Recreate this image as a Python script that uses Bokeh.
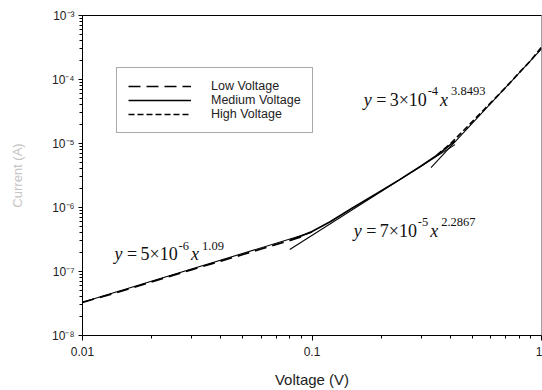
import math
from bokeh.plotting import figure
from bokeh.models import (Range1d, FixedTicker, CustomJSTickFormatter, Label,
                          Legend, LegendItem, LogAxis)
from bokeh.embed import file_html
from bokeh.resources import INLINE

# ---- data ----
low_v = [0.01, 0.015, 0.02, 0.03, 0.04, 0.05, 0.06, 0.07, 0.08, 0.09]
low_i = [3.3e-8, 5.0e-8, 6.9e-8, 1.07e-7, 1.45e-7, 1.84e-7, 2.25e-7, 2.65e-7, 3.05e-7, 3.5e-7]
med_v = [0.08, 0.1, 0.12, 0.15, 0.19, 0.24, 0.3, 0.36, 0.42]
med_i = [3.05e-7, 4.2e-7, 6.0e-7, 9.8e-7, 1.62e-6, 2.7e-6, 4.5e-6, 7.0e-6, 1.1e-5]
high_v = [0.35, 0.4, 0.45, 0.5, 0.6, 0.7, 0.8, 0.9, 1.0]
high_i = [6.6e-6, 9.8e-6, 1.5e-5, 2.2e-5, 4.3e-5, 7.6e-5, 1.28e-4, 2.0e-4, 3.2e-4]

low_fit_v = [0.01, 0.1]
low_fit_i = [3.3e-8, 4.1e-7]
med_fit_v = [0.08, 0.42]
med_fit_i = [2.2e-7, 9.6e-6]
high_fit_v = [0.33, 1.0]
high_fit_i = [4.2e-6, 3.0e-4]

series_names = ["Low Voltage", "Medium Voltage", "High Voltage"]

x_major = [0.01, 0.1, 1.0]
y_major = [1e-8, 1e-7, 1e-6, 1e-5, 1e-4, 1e-3]

x_title = "Voltage (V)"
y_title = "Current (A)"

# equations: coefficient, power of ten, exponent, anchor (V, A)
eq_coef = ["3", "5", "7"]
eq_p10 = ["-4", "-6", "-5"]
eq_pow = ["3.8493", "1.09", "2.2867"]
eq_x = [0.168, 0.0138, 0.152]
eq_y = [4.8e-5, 1.86e-7, 4.37e-7]

# ---- figure ----
p = figure(width=542, height=390, x_axis_type="log", y_axis_type="log",
           x_range=Range1d(0.01, 1.0), y_range=Range1d(1e-8, 1e-3),
           output_backend="svg", toolbar_location=None,
           min_border_left=82, min_border_right=1, min_border_top=15,
           min_border_bottom=52)
p.grid.visible = False
p.outline_line_color = "#a0a0a0"
p.background_fill_color = "white"
p.border_fill_color = "white"

def minors(majors):
    out = []
    for m in majors[:-1]:
        out += [m * k for k in range(2, 10)]
    return out

p.xaxis.ticker = FixedTicker(ticks=x_major, minor_ticks=minors(x_major))
p.yaxis.ticker = FixedTicker(ticks=y_major, minor_ticks=minors(y_major))
p.xaxis.formatter = CustomJSTickFormatter(code="""
    if (tick >= 1) return '1';
    return tick.toFixed(Math.round(-Math.log10(tick)));
""")
p.yaxis.formatter = CustomJSTickFormatter(code="""
    const e = Math.round(Math.log10(tick));
    const sup = {'-':'\u207b','0':'\u2070','1':'\u00b9','2':'\u00b2','3':'\u00b3','4':'\u2074',
                 '5':'\u2075','6':'\u2076','7':'\u2077','8':'\u2078','9':'\u2079'};
    return '10' + String(e).split('').map(c => sup[c]).join('');
""")

for ax in (p.xaxis[0], p.yaxis[0]):
    ax.axis_line_color = "black"
    ax.major_tick_line_color = "black"
    ax.minor_tick_line_color = "black"
    ax.major_tick_in = 0
    ax.minor_tick_in = 0
    ax.major_label_text_font = "Liberation Sans"
    ax.major_label_text_font_size = "12px"
    ax.major_label_text_color = "#222222"
    ax.axis_label_text_font = "Liberation Sans"
    ax.axis_label_text_font_style = "normal"
    ax.axis_label_text_font_size = "15px"

p.xaxis.major_tick_out = 5
p.xaxis.minor_tick_out = 3
p.xaxis.major_label_standoff = 6
p.xaxis.axis_label = x_title
p.xaxis.axis_label_standoff = 12
p.xaxis.axis_label_text_color = "#222222"

p.yaxis.major_tick_out = 4
p.yaxis.minor_tick_out = 3
p.yaxis.major_label_standoff = 4
p.yaxis.axis_label = y_title
p.yaxis.axis_label_standoff = 24
p.yaxis.axis_label_text_font_size = "13px"
p.yaxis.axis_label_text_color = "#c4c4c4"

top_axis = LogAxis(ticker=FixedTicker(ticks=[]), major_tick_line_color=None,
                   minor_tick_line_color=None, major_label_text_font_size="0px",
                   major_label_standoff=0, axis_line_color="black")
p.add_layout(top_axis, "above")

# ---- data curves ----
r_low = p.line(low_v, low_i, line_color="black", line_width=1.7, line_dash="12 6")
r_med = p.line(med_v, med_i, line_color="black", line_width=1.7)
r_high = p.line(high_v, high_i, line_color="black", line_width=1.7, line_dash="6 3")

# ---- fit lines ----
for fv, fi in ((low_fit_v, low_fit_i), (med_fit_v, med_fit_i), (high_fit_v, high_fit_i)):
    p.line(fv, fi, line_color="black", line_width=1.1)

legend = Legend(items=[LegendItem(label=series_names[0], renderers=[r_low]),
                       LegendItem(label=series_names[1], renderers=[r_med]),
                       LegendItem(label=series_names[2], renderers=[r_high])],
                location=(34, 202), padding=11, spacing=0, margin=0,
                label_height=10, glyph_height=10, glyph_width=63,
                label_standoff=20, label_text_font="Liberation Sans",
                label_text_font_size="12.5px", label_text_color="#222222",
                border_line_color="#555555", border_line_width=1,
                background_fill_alpha=1.0)
p.add_layout(legend, "center")

# ---- equations ----
F, f = 18, 12.5
def em(s):
    w = 0.0
    for c in s:
        w += 0.25 if c == "." else (0.333 if c == "-" else 0.5)
    return w

for coef, p10, pw, ax_, ay_ in zip(eq_coef, eq_p10, eq_pow, eq_x, eq_y):
    up = 10 ** (8.5 / 64.6)
    pieces = []
    pieces.append(("y", 0, F, "italic", ay_))
    pieces.append(("=", 12.5, F, "normal", ay_))
    pieces.append((coef + "\u00d710", 26, F, "normal", ay_))
    x0 = 26 + 37 + 1
    pieces.append((p10, x0, f, "normal", ay_ * up))
    x1 = x0 + em(p10) * f + 2
    pieces.append(("x", x1, F, "italic", ay_))
    x2 = x1 + 0.444 * F + 3
    pieces.append((pw, x2, f, "normal", ay_ * up))
    for txt, off, size, style, yy in pieces:
        p.add_layout(Label(x=ax_, y=yy, x_offset=off, text=txt,
                           text_font="Liberation Serif", text_font_size=f"{size}px",
                           text_font_style=style, text_color="#111111",
                           text_baseline="alphabetic", text_align="left"))

open("out.html", "w").write(file_html(p, INLINE))
